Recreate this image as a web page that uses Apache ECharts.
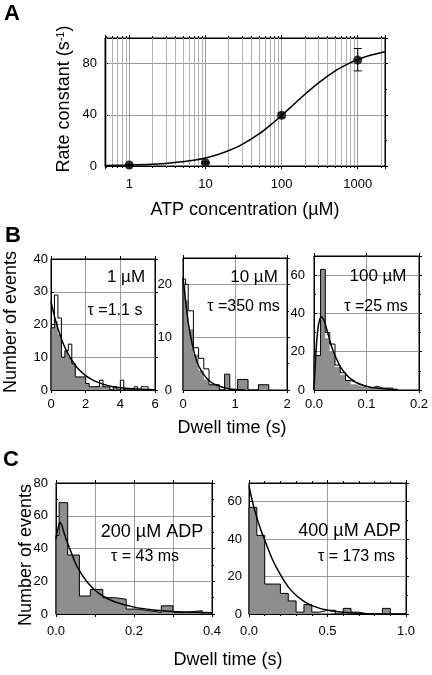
<!DOCTYPE html>
<html><head><meta charset="utf-8">
<script src="https://cdn.jsdelivr.net/npm/echarts@6/dist/echarts.min.js"></script>
<style>html,body{margin:0;padding:0;background:#fff}#c{width:432px;height:675px}</style>
</head><body><div id="c"></div>
<script>
// ---------- Panel A : rate constant vs ATP ----------
const atpConc = [1, 10, 100, 1000];
const rateConst = [0.8, 2.6, 39.6, 82.8];
const rateErrLow = [0.3, 2.0, 37.8, 74.3];
const rateErrHigh = [1.3, 3.2, 41.4, 91.8];
const fitConc = [0.48, 1, 2, 3, 5, 7, 10, 15, 20, 30, 50, 70, 100, 150, 200, 300, 500, 700, 1000, 1500, 2280];
const fitRate = [0.3, 0.7, 1.3, 2.0, 3.3, 4.5, 6.3, 9.2, 11.9, 16.7, 24.9, 31.6, 39.5, 49.0, 55.8, 64.6, 74.1, 79.0, 83.2, 86.7, 89.3];
const aXTicks = [1, 10, 100, 1000];
const aYTicks = [0, 40, 80];

// ---------- Panel B1 : 1 uM ----------
const b1Edges = [0,0.2,0.4,0.6,0.8,1.0,1.2,1.4,1.6,1.8,2.0,2.2,2.4,2.6,2.8,3.0,3.2,3.4,3.6,3.8,4.0,4.2,4.4,4.6,4.8,5.0,5.2,5.4,5.6];
const b1Counts = [19,29,22,10,12,14,8,4,4,4,2,1,1,1,3,1,1,0,1,0,3,0,0,0,1,0,1,1];
const b1Shaded = [19,21,17,10,12,10,8,4,4,4,2,1,1,1,1.5,1,1,0,0.7,0,0.5,0,0,0,0.3,0,0.2,0.2];
const b1FitT = [0,0.25,0.5,0.75,1,1.25,1.5,2,2.5,3,3.5,4,5,6];
const b1FitN = [27,21.5,17.2,13.6,10.9,8.7,6.9,4.4,2.8,1.8,1.1,0.7,0.3,0.1];
const b1XTicks = [0,2,4,6];
const b1YTicks = [0,10,20,30,40];

// ---------- Panel B2 : 10 uM ----------
const b2Edges = [0,0.05,0.1,0.2,0.3,0.4,0.5,0.6,0.7,0.8,0.9,1.05,1.25,1.45,1.65];
const b2Counts = [21,20,15,8,6,4,1,1,0,3,0,2,0,1];
const b2Shaded = [20,17,11.5,6.7,3.7,2,1,0.8,0,3,0,2,0,1];
const b2FitT = [0,0.05,0.1,0.15,0.2,0.25,0.3,0.4,0.5,0.6,0.7,0.8,0.9,1.0,1.2];
const b2FitN = [21.3,16.8,12.8,10,7.7,5.9,4.6,2.9,1.8,1.1,0.7,0.4,0.2,0.1,0];
const b2XTicks = [0,1,2];
const b2YTicks = [0,10,20];

// ---------- Panel B3 : 100 uM ----------
const b3Edges = [0,0.0125,0.0215,0.03,0.04,0.05,0.06,0.07,0.08,0.09,0.1,0.11,0.12,0.13,0.14,0.15];
const b3Counts = [18,63,30,24,13,9,5,4,3,2,1,2,1,1,1];
const b3Shaded = [18,63,27,20,12,8,5,3,2,1.5,1,1,0.5,0.3,0.3];
const b3FitT = [0,0.0025,0.005,0.0075,0.01,0.014,0.018,0.022,0.026,0.03,0.035,0.04,0.045,0.05,0.06,0.07,0.08,0.09,0.1,0.12,0.14,0.16];
const b3FitN = [0,14,25,32,36,38.2,37,34,30,26,21.5,18,15,12.2,8.5,5.8,4,2.7,1.9,1,0.5,0.2];
const b3XTicks = [0,0.1,0.2];
const b3YTicks = [0,20,40,60];

// ---------- Panel C1 : 200 uM ADP ----------
const c1Edges = [0,0.008,0.03,0.06,0.088,0.12,0.15,0.18,0.21,0.24,0.27,0.30,0.33,0.375];
const c1Counts = [48,68,36,11,15,10,9,3,2,1,5,1,2];
const c1Shaded = [48,68,36,11,15,10,9,3,2,1,5,1,2];
const c1FitT = [0,0.005,0.01,0.015,0.02,0.03,0.04,0.05,0.06,0.08,0.1,0.12,0.15,0.2,0.25,0.3,0.35,0.4];
const c1FitN = [46,52,56,54,50,43,37,31,26.5,19.5,14.5,11,7.5,4.2,2.5,1.5,1,0.7];
const c1XTicks = [0,0.2,0.4];
const c1YTicks = [0,20,40,60,80];

// ---------- Panel C2 : 400 uM ADP ----------
const c2Edges = [0,0.05,0.1,0.15,0.2,0.25,0.3,0.35,0.4,0.45,0.5,0.55,0.6,0.65,0.7,0.75,0.8,0.85,0.9];
const c2Counts = [57,42,16,16,11,7,1,5,1,2,2,0,3,1,0,0,0,3];
const c2Shaded = [57,42,16,16,11,7,1,5,1,0,0,0,3,0.5,0,0,0,3];
const c2FitT = [0,0.025,0.05,0.075,0.1,0.15,0.2,0.25,0.3,0.35,0.4,0.5,0.6,0.7,0.8,1.0];
const c2FitN = [68.5,59,51.5,45,39.5,29,21,14.5,10,6.8,4.5,2,0.9,0.4,0.1,0];
const c2XTicks = [0,0.5,1.0];
const c2YTicks = [0,20,40,60];

const FONT = 'Liberation Sans';
const GRAY_GRID = '#9a9a9a';
const SHADE = '#8e8e8e';

const grids = [], xAxes = [], yAxes = [], series = [];

function near(list, v){
  return list.find(t => Math.abs(t - v) <= 1e-6 * Math.max(1, Math.abs(t)));
}
function addPanel(box, xo, yo){
  const gi = grids.length;
  grids.push({left: box[0], top: box[1], width: box[2], height: box[3], show: true,
    borderColor: '#000', borderWidth: 1, backgroundColor: 'transparent', containLabel: false});
  const tickStyle = {color: '#000', width: 1};
  const common = (o) => {
    const a = {type: o.type || 'value', min: o.min, max: o.max, gridIndex: gi,
      axisLine: {show: true, onZero: false, lineStyle: {color: '#000', width: 1}}};
    if (o.type === 'log') a.logBase = 10; else a.interval = o.interval;
    return a;
  };
  const labelFmt = (o) => (v) => { const t = near(o.ticks, v); return t === undefined ? '' : o.fmt(t); };
  // bottom x
  xAxes.push(Object.assign(common(xo), {position: 'bottom',
    axisTick: {show: true, inside: false, length: 3, lineStyle: tickStyle},
    minorTick: {show: !!xo.minor, splitNumber: xo.minor || 5, length: 2, lineStyle: tickStyle},
    axisLabel: {show: true, margin: xo.margin, fontSize: 13, fontFamily: FONT, color: '#000', formatter: labelFmt(xo)},
    splitLine: {show: true, lineStyle: {color: GRAY_GRID, width: 1}}}));
  // top x
  xAxes.push(Object.assign(common(xo), {position: 'top',
    axisTick: {show: true, inside: false, length: 3, lineStyle: tickStyle},
    minorTick: {show: !!xo.minor, splitNumber: xo.minor || 5, length: 2, lineStyle: tickStyle},
    axisLabel: {show: false}, splitLine: {show: false}}));
  // left y
  yAxes.push(Object.assign(common(yo), {position: 'left',
    axisTick: {show: true, inside: true, length: 3, lineStyle: tickStyle},
    minorTick: {show: !!yo.minor, splitNumber: yo.minor || 2, length: 2, lineStyle: tickStyle},
    axisLabel: {show: true, margin: yo.margin, fontSize: 13, fontFamily: FONT, color: '#000', formatter: labelFmt(yo)},
    splitLine: {show: true, lineStyle: {color: GRAY_GRID, width: 1}}}));
  // right y
  yAxes.push(Object.assign(common(yo), {position: 'right',
    axisTick: {show: true, inside: false, length: 3, lineStyle: tickStyle},
    minorTick: {show: !!yo.minor, splitNumber: yo.minor || 2, length: 2, lineStyle: tickStyle},
    axisLabel: {show: false}, splitLine: {show: false}}));
  return {x: gi * 2, y: gi * 2};
}

function stepPts(edges, vals){
  const p = [[edges[0], 0]];
  for (let i = 0; i < vals.length; i++) p.push([edges[i], vals[i]]);
  p.push([edges[edges.length - 1], 0]);
  return p;
}
function addHist(ax, edges, counts, shaded, fitT, fitN){
  series.push({type: 'line', xAxisIndex: ax.x, yAxisIndex: ax.y, step: 'end', symbol: 'none', z: 2,
    data: stepPts(edges, shaded), lineStyle: {width: 0, opacity: 0},
    areaStyle: {color: SHADE, opacity: 1}, silent: true, animation: false});
  series.push({type: 'line', xAxisIndex: ax.x, yAxisIndex: ax.y, step: 'end', symbol: 'none', z: 3,
    data: stepPts(edges, counts), lineStyle: {color: '#000', width: 1}, silent: true, animation: false});
  series.push({type: 'line', xAxisIndex: ax.x, yAxisIndex: ax.y, smooth: 0.3, symbol: 'none', z: 4,
    data: fitT.map((t, i) => [t, fitN[i]]), lineStyle: {color: '#000', width: 1.5}, silent: true, animation: false});
}

// ----- Panel A -----
const axA = addPanel([105, 38, 280, 128],
  {type: 'log', min: 0.48, max: 2280, ticks: aXTicks, fmt: v => String(v), margin: 12},
  {min: 0, max: 100, interval: 40, ticks: aYTicks, fmt: v => String(v), margin: 8, minor: 2});
const aMinor = [];
for (const d of [0.1, 1, 10, 100, 1000]) for (let m = 2; m <= 9; m++) { const v = d * m; if (v > 0.48 && v < 2280) aMinor.push(v); }
series.push({type: 'custom', xAxisIndex: axA.x, yAxisIndex: axA.y, z: 1, silent: true, animation: false,
  data: aMinor.map(v => [v, 0]), encode: {x: 0, y: 1},
  renderItem: (params, api) => {
    const b = api.coord([api.value(0), 0]), t = api.coord([api.value(0), 100]);
    const x = Math.round(b[0]) + 0.5;
    return {type: 'group', children: [
      {type: 'line', shape: {x1: x, y1: b[1], x2: x, y2: t[1]}, style: {stroke: '#b0b0b0', lineWidth: 1}},
      {type: 'line', shape: {x1: x, y1: b[1], x2: x, y2: b[1] + 2}, style: {stroke: '#000', lineWidth: 1}},
      {type: 'line', shape: {x1: x, y1: t[1], x2: x, y2: t[1] - 2}, style: {stroke: '#000', lineWidth: 1}}
    ]};
  }});
series.push({type: 'line', xAxisIndex: axA.x, yAxisIndex: axA.y, smooth: 0.3, symbol: 'none', z: 3,
  data: fitConc.map((c, i) => [c, fitRate[i]]), lineStyle: {color: '#000', width: 1.5}, silent: true, animation: false});
series.push({type: 'custom', xAxisIndex: axA.x, yAxisIndex: axA.y, z: 4, silent: true, animation: false,
  data: atpConc.map((c, i) => [c, rateErrLow[i], rateErrHigh[i]]), encode: {x: 0, y: [1, 2]},
  renderItem: (params, api) => {
    const lo = api.coord([api.value(0), api.value(1)]), hi = api.coord([api.value(0), api.value(2)]);
    const st = {stroke: '#000', lineWidth: 1};
    return {type: 'group', children: [
      {type: 'line', shape: {x1: lo[0], y1: lo[1], x2: hi[0], y2: hi[1]}, style: st},
      {type: 'line', shape: {x1: lo[0] - 4, y1: lo[1], x2: lo[0] + 4, y2: lo[1]}, style: st},
      {type: 'line', shape: {x1: hi[0] - 4, y1: hi[1], x2: hi[0] + 4, y2: hi[1]}, style: st}
    ]};
  }});
series.push({type: 'scatter', xAxisIndex: axA.x, yAxisIndex: axA.y, z: 5, symbol: 'circle', symbolSize: 9,
  itemStyle: {color: '#000'}, data: atpConc.map((c, i) => [c, rateConst[i]]), silent: true, animation: false});

// ----- Panel B -----
const axB1 = addPanel([51, 259, 104, 131],
  {min: 0, max: 6, interval: 2, ticks: b1XTicks, fmt: v => String(v), margin: 8},
  {min: 0, max: 40, interval: 10, ticks: b1YTicks, fmt: v => String(v), margin: 3});
addHist(axB1, b1Edges, b1Counts, b1Shaded, b1FitT, b1FitN);
const axB2 = addPanel([183, 258, 104, 132],
  {min: 0, max: 2, interval: 1, ticks: b2XTicks, fmt: v => String(v), margin: 8},
  {min: 0, max: 25, interval: 10, ticks: b2YTicks, fmt: v => String(v), margin: 11, minor: 2});
addHist(axB2, b2Edges, b2Counts, b2Shaded, b2FitT, b2FitN);
const axB3 = addPanel([314, 256, 105, 134],
  {min: 0, max: 0.2, interval: 0.1, ticks: b3XTicks, fmt: v => v.toFixed(1), margin: 8},
  {min: 0, max: 70, interval: 20, ticks: b3YTicks, fmt: v => String(v), margin: 9, minor: 2});
addHist(axB3, b3Edges, b3Counts, b3Shaded, b3FitT, b3FitN);

// ----- Panel C -----
const axC1 = addPanel([56, 483, 156, 131],
  {min: 0, max: 0.4, interval: 0.1, ticks: c1XTicks, fmt: v => v.toFixed(1), margin: 11},
  {min: 0, max: 80, interval: 20, ticks: c1YTicks, fmt: v => String(v), margin: 8, minor: 2});
addHist(axC1, c1Edges, c1Counts, c1Shaded, c1FitT, c1FitN);
const axC2 = addPanel([249, 483, 157, 131],
  {min: 0, max: 1.0, interval: 0.5, ticks: c2XTicks, fmt: v => v.toFixed(1), margin: 11, minor: 5},
  {min: 0, max: 70, interval: 20, ticks: c2YTicks, fmt: v => String(v), margin: 7, minor: 2});
addHist(axC2, c2Edges, c2Counts, c2Shaded, c2FitT, c2FitN);

// ----- Texts -----
const textItems = [
  {t: 'A', x: 4, y: 13.5, s: 22, b: true, a: 'left'},
  {t: 'B', x: 5, y: 236, s: 22, b: true, a: 'left'},
  {t: 'C', x: 3, y: 460, s: 22, b: true, a: 'left'},
  {t: 'ATP concentration (\u00B5M)', x: 245, y: 210, s: 18, a: 'center'},
  {t: 'Dwell time (s)', x: 232, y: 428, s: 18, a: 'center'},
  {t: 'Dwell time (s)', x: 228, y: 660, s: 18, a: 'center'},
  {t: 'Number of events', x: 11, y: 322, s: 18, a: 'center', r: true},
  {t: 'Number of events', x: 26, y: 555, s: 18, a: 'center', r: true},
  {t: '1 \u00B5M', x: 126, y: 277, s: 17, a: 'center'},
  {t: '\u03C4 =1.1 s', x: 115, y: 311, s: 16, a: 'center'},
  {t: '10 \u00B5M', x: 254, y: 277, s: 17, a: 'center'},
  {t: '\u03C4 =350 ms', x: 243.5, y: 307, s: 16, a: 'center'},
  {t: '100 \u00B5M', x: 378, y: 276, s: 17, a: 'center'},
  {t: '\u03C4 =25 ms', x: 376, y: 307, s: 16, a: 'center'},
  {t: '200 \u00B5M ADP', x: 152, y: 532, s: 18, a: 'center'},
  {t: '\u03C4 = 43 ms', x: 145, y: 557, s: 16, a: 'center'},
  {t: '400 \u00B5M ADP', x: 349.5, y: 531, s: 18, a: 'center'},
  {t: '\u03C4 = 173 ms', x: 356.5, y: 557, s: 16, a: 'center'}
];
const graphics = textItems.map(o => ({
  type: 'text', x: o.x, y: o.y, rotation: o.r ? Math.PI / 2 : 0, z: 100, silent: true,
  style: {text: o.t, fontSize: o.s, fontFamily: FONT, fontWeight: o.b ? 'bold' : 'normal', fill: '#000',
    align: o.a, textAlign: o.a, verticalAlign: 'middle', textVerticalAlign: 'middle'}
}));
graphics.push({
  type: 'text', x: 64, y: 99, rotation: Math.PI / 2, z: 100, silent: true,
  style: {text: 'Rate constant (s{sup|-1})', fontSize: 18, fontFamily: FONT, fill: '#000',
    align: 'center', textAlign: 'center', verticalAlign: 'middle', textVerticalAlign: 'middle',
    rich: {sup: {fontSize: 11, fontFamily: FONT, fill: '#000', verticalAlign: 'top'}}}
});

const chart = echarts.init(document.getElementById('c'), null, {renderer: 'canvas'});
chart.setOption({
  animation: false,
  backgroundColor: '#fff',
  grid: grids, xAxis: xAxes, yAxis: yAxes, series: series, graphic: graphics
});
</script></body></html>
